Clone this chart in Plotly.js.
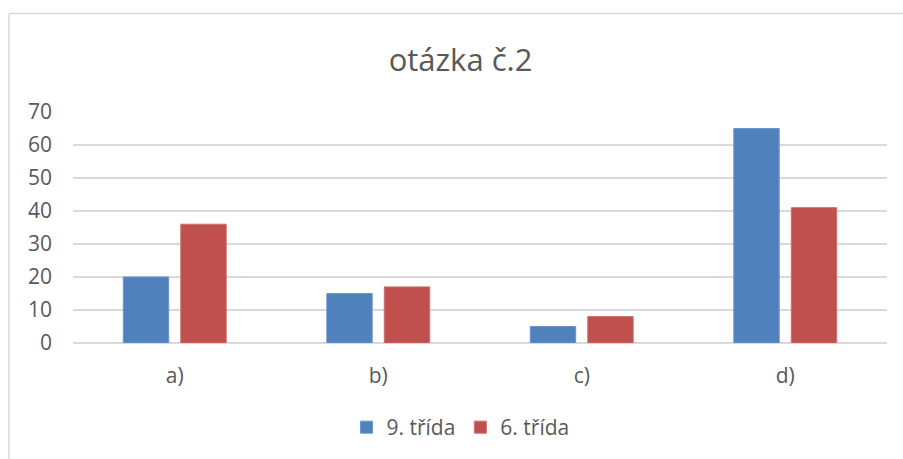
<!DOCTYPE html>
<html>
<head>
<meta charset="utf-8">
<script src="https://cdn.plot.ly/plotly-3.0.1.min.js"></script>
<style>html,body{margin:0;padding:0;background:#fff;}#chart{width:903px;height:459px;}</style>
</head>
<body>
<div id="chart"></div>
<script>
const categories = ["a)", "b)", "c)", "d)"];
const seriesNames = ["9. třída", "6. třída"];
const values9 = [20, 15, 5, 65];
const values6 = [36, 17, 8, 41];
const yTicks = [0, 10, 20, 30, 40, 50, 60, 70];
const chartTitle = "otázka č.2";

const FONT = "Open Sans, Noto Sans, sans-serif";
const GREY = "#595959";

const traces = [
  {type: "bar", name: seriesNames[0], x: categories, y: values9,
   marker: {color: "#4F81BD", line: {color: "#6A95CC", width: 1}}},
  {type: "bar", name: seriesNames[1], x: categories, y: values6,
   marker: {color: "#C0504D", line: {color: "#CC6E6B", width: 1}}}
];

const layout = {
  width: 903, height: 459,
  margin: {l: 73, r: 16, t: 112, b: 115},
  paper_bgcolor: "#fff", plot_bgcolor: "#fff",
  title: {text: chartTitle, x: 0.51, xanchor: "center", y: 0.87, yanchor: "middle",
          font: {family: FONT, size: 31, color: GREY}},
  barmode: "group", bargap: 0.435, bargroupgap: 0.21,
  showlegend: true,
  legend: {orientation: "h", x: 0.476, xanchor: "center", y: -0.36, yanchor: "middle",
           font: {family: FONT, size: 21, color: GREY}, itemwidth: 30, traceorder: "normal"},
  xaxis: {type: "category", showgrid: false, showline: false, zeroline: false, ticks: "",
          ticklabelstandoff: 18, tickfont: {family: FONT, size: 21, color: GREY}},
  yaxis: {range: [0, 70], tickvals: yTicks, ticktext: yTicks.map(String),
          showgrid: true, gridcolor: "#D9D9D9", gridwidth: 1.3, zeroline: true, zerolinecolor: "#D9D9D9",
          zerolinewidth: 1.3, showline: false, ticks: "", ticklabelstandoff: 20,
          tickfont: {family: FONT, size: 21, color: GREY}},
  shapes: [
    {type: "line", xref: "paper", yref: "paper", x0: -0.0786, x1: -0.0786, y0: -0.6, y1: 1.4267,
     line: {color: "#D9D9D9", width: 1.5}},
    {type: "line", xref: "paper", yref: "paper", x0: -0.0786, x1: 1.1, y0: 1.4267, y1: 1.4267,
     line: {color: "#D9D9D9", width: 1.5}}
  ]
};

Plotly.newPlot("chart", traces, layout, {displayModeBar: false, staticPlot: true});
</script>
</body>
</html>
